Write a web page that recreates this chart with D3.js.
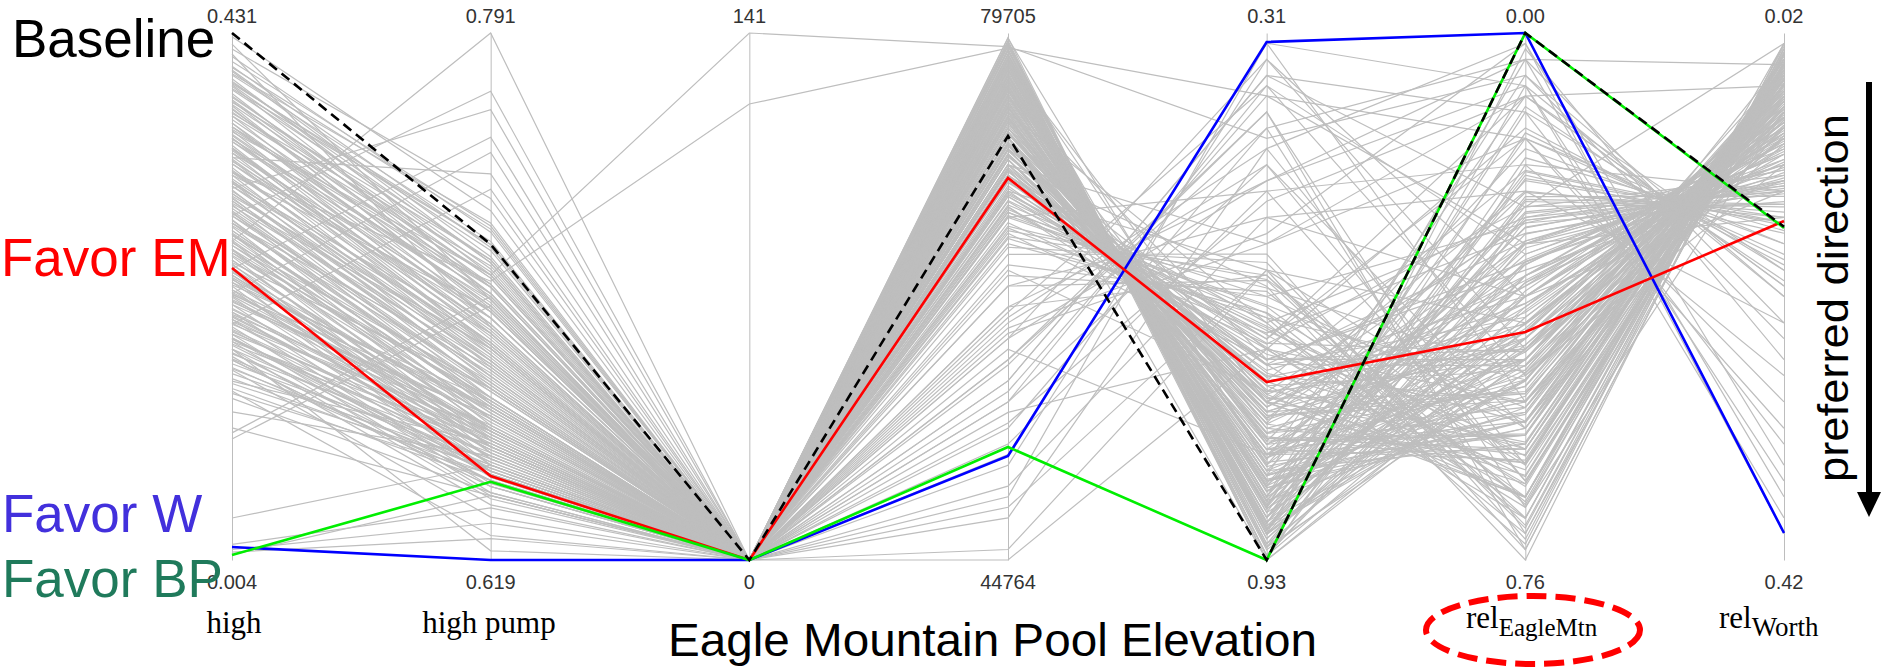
<!DOCTYPE html>
<html>
<head>
<meta charset="utf-8">
<script src="https://cdn.jsdelivr.net/npm/d3@7"></script>
<style>
  html, body { margin: 0; padding: 0; background: #fff; }
  svg { display: block; }
</style>
</head>
<body>
<svg id="chart" width="1882" height="668"></svg>
<script>
// Objective axes, left to right
const axisKeys = ["highDemand", "highPump", "emLow", "emVolume", "relBP", "relEagleMtn", "relWorth"];
const axisTop = [0.431, 0.791, 141, 79705, 0.31, 0.00, 0.02];
const axisBottom = [0.004, 0.619, 0, 44764, 0.93, 0.76, 0.42];
const topLabels = ["0.431", "0.791", "141", "79705", "0.31", "0.00", "0.02"];
const bottomLabels = ["0.004", "0.619", "0", "44764", "0.93", "0.76", "0.42"];

// Highlighted operating policies
const baselineRun = [0.431, 0.722, 0, 72877, 0.93, 0.00, 0.167];
const favorEM = [0.2406, 0.6464, 0, 70092, 0.7206, 0.4312, 0.1627];
const favorW = [0.0145, 0.619, 0, 51658, 0.3206, 0.00, 0.3995];
const favorBP = [0.008, 0.6445, 0, 52255, 0.93, 0.00, 0.168];

// Remaining Pareto-approximate solutions
const grayRuns = [
  [0.412,0.726,0,78600,0.899,0.418,0.068],
  [0.404,0.721,0,76211,0.837,0.570,0.044],
  [0.398,0.729,0,77600,0.744,0.228,0.160],
  [0.392,0.716,0,74464,0.930,0.456,0.060],
  [0.386,0.722,0,72018,0.682,0.684,0.036],
  [0.380,0.711,0,78300,0.868,0.114,0.200],
  [0.375,0.717,0,75512,0.775,0.608,0.052],
  [0.369,0.706,0,69921,0.651,0.722,0.032],
  [0.364,0.712,0,79006,0.911,0.304,0.108],
  [0.358,0.702,0,73416,0.806,0.494,0.076],
  [0.353,0.708,0,76910,0.856,0.038,0.240],
  [0.348,0.698,0,68175,0.713,0.532,0.060],
  [0.343,0.704,0,76211,0.880,0.380,0.092],
  [0.338,0.694,0,70970,0.608,0.760,0.028],
  [0.334,0.700,0,78600,0.930,0.190,0.140],
  [0.329,0.690,0,72717,0.794,0.441,0.080],
  [0.325,0.696,0,66427,0.694,0.342,0.132],
  [0.320,0.687,0,74800,0.825,0.593,0.040],
  [0.316,0.701,0,77958,0.899,0.076,0.220],
  [0.311,0.684,0,71320,0.756,0.517,0.056],
  [0.307,0.690,0,69223,0.589,0.745,0.036],
  [0.303,0.681,0,76560,0.868,0.266,0.124],
  [0.299,0.688,0,74110,0.806,0.395,0.096],
  [0.295,0.678,0,63982,0.732,0.471,0.072],
  [0.291,0.683,0,78300,0.918,0.471,0.048],
  [0.287,0.675,0,70270,0.670,0.152,0.188],
  [0.283,0.680,0,75860,0.837,0.547,0.052],
  [0.279,0.672,0,72370,0.781,0.418,0.088],
  [0.275,0.677,0,79006,0.930,0.023,0.268],
  [0.271,0.669,0,67476,0.632,0.669,0.040],
  [0.267,0.674,0,75160,0.843,0.319,0.116],
  [0.263,0.665,0,70620,0.744,0.593,0.048],
  [0.259,0.671,0,77260,0.887,0.243,0.152],
  [0.255,0.662,0,71670,0.719,0.456,0.084],
  [0.251,0.667,0,65030,0.570,0.730,0.032],
  [0.247,0.659,0,76560,0.856,0.441,0.064],
  [0.243,0.664,0,73770,0.800,0.334,0.104],
  [0.239,0.656,0,68870,0.688,0.562,0.068],
  [0.235,0.661,0,77958,0.905,0.395,0.076],
  [0.231,0.668,0,71320,0.769,0.167,0.180],
  [0.227,0.671,0,75512,0.831,0.502,0.056],
  [0.223,0.665,0,73070,0.738,0.638,0.044],
  [0.219,0.669,0,66780,0.663,0.289,0.140],
  [0.215,0.662,0,76910,0.874,0.479,0.052],
  [0.211,0.666,0,69570,0.707,0.380,0.100],
  [0.207,0.659,0,74800,0.812,0.091,0.212],
  [0.203,0.663,0,62930,0.601,0.699,0.036],
  [0.199,0.657,0,76211,0.849,0.426,0.072],
  [0.195,0.661,0,72018,0.763,0.304,0.120],
  [0.191,0.655,0,77600,0.893,0.350,0.096],
  [0.187,0.659,0,67830,0.657,0.654,0.044],
  [0.183,0.653,0,74464,0.818,0.213,0.164],
  [0.179,0.656,0,70270,0.725,0.486,0.064],
  [0.175,0.651,0,72717,0.787,0.578,0.048],
  [0.171,0.654,0,64330,0.620,0.274,0.148],
  [0.167,0.650,0,77260,0.862,0.456,0.060],
  [0.163,0.652,0,68530,0.682,0.137,0.196],
  [0.159,0.648,0,74110,0.806,0.532,0.056],
  [0.155,0.650,0,70970,0.750,0.365,0.108],
  [0.151,0.647,0,65729,0.639,0.623,0.040],
  [0.147,0.649,0,75860,0.843,0.258,0.136],
  [0.143,0.645,0,72370,0.775,0.471,0.068],
  [0.139,0.647,0,75160,0.831,0.061,0.252],
  [0.135,0.641,0,61540,0.595,0.714,0.032],
  [0.401,0.718,0,79350,0.818,0.350,0.092],
  [0.389,0.714,0,73070,0.725,0.669,0.028],
  [0.377,0.709,0,77260,0.874,0.205,0.172],
  [0.366,0.715,0,70620,0.763,0.433,0.068],
  [0.355,0.703,0,78600,0.924,0.372,0.084],
  [0.345,0.706,0,74110,0.787,0.600,0.040],
  [0.336,0.692,0,67130,0.676,0.251,0.128],
  [0.327,0.698,0,76560,0.849,0.486,0.060],
  [0.318,0.689,0,72370,0.744,0.669,0.036],
  [0.309,0.693,0,77958,0.887,0.144,0.192],
  [0.301,0.684,0,69223,0.701,0.410,0.088],
  [0.293,0.688,0,75512,0.831,0.524,0.052],
  [0.285,0.676,0,71320,0.750,0.327,0.112],
  [0.277,0.682,0,79006,0.911,0.441,0.064],
  [0.269,0.670,0,66080,0.645,0.737,0.028],
  [0.261,0.675,0,74800,0.825,0.281,0.132],
  [0.253,0.672,0,72717,0.781,0.540,0.048],
  [0.245,0.675,0,76910,0.868,0.106,0.208],
  [0.237,0.666,0,68175,0.694,0.471,0.076],
  [0.229,0.669,0,73770,0.800,0.616,0.044],
  [0.221,0.662,0,78300,0.899,0.334,0.100],
  [0.213,0.666,0,69921,0.719,0.198,0.164],
  [0.205,0.658,0,75860,0.837,0.509,0.056],
  [0.197,0.661,0,71670,0.756,0.403,0.096],
  [0.189,0.656,0,63630,0.614,0.676,0.036],
  [0.181,0.658,0,77600,0.880,0.236,0.144],
  [0.262,0.791,0,74464,0.651,0.266,0.140],
  [0.283,0.772,0,77958,0.794,0.547,0.060],
  [0.305,0.766,0,70970,0.558,0.091,0.200],
  [0.240,0.757,0,75512,0.694,0.456,0.084],
  [0.220,0.752,0,67476,0.496,0.646,0.052],
  [0.330,0.745,0,76910,0.856,0.152,0.180],
  [0.195,0.740,0,73416,0.744,0.357,0.104],
  [0.351,0.712,141,78800,0.434,0.061,0.220],
  [0.318,0.710,122,78700,0.384,0.304,0.160],
  [0.111,0.640,0,60487,0.465,0.570,0.060],
  [0.107,0.705,0,58040,0.403,0.684,0.080],
  [0.102,0.702,0,62930,0.527,0.228,0.240],
  [0.038,0.650,0,55246,0.372,0.494,0.120],
  [0.0166,0.636,0,51050,0.341,0.380,0.140],
  [0.0125,0.631,0,47560,0.446,0.623,0.068],
  [0.0083,0.640,0,56640,0.360,0.114,0.332],
  [0.0104,0.626,0,45460,0.589,0.418,0.100],
  [0.141,0.627,0,59440,0.484,0.038,0.372],
  [0.158,0.633,0,53499,0.422,0.722,0.044],
  [0.166,0.643,0,48960,0.322,0.076,0.388],
  [0.175,0.622,0,44764,0.682,0.532,0.080],
  [0.183,0.647,0,55940,0.384,0.152,0.300],
  [0.124,0.653,0,60140,0.546,0.015,0.348],
  [0.149,0.657,0,52450,0.496,0.190,0.280],
  [0.372,0.700,0,59440,0.341,0.456,0.100],
  [0.338,0.688,0,58040,0.422,0.038,0.044],
  [0.297,0.679,0,55246,0.465,0.646,0.060],
  [0.256,0.668,0,61190,0.372,0.319,0.120],
  [0.218,0.660,0,53850,0.508,0.091,0.060],
  [0.184,0.648,0,51752,0.322,0.532,0.092],
  [0.390,0.722,0,59790,0.558,0.152,0.320],
  [0.355,0.709,0,57690,0.403,0.745,0.036],
  [0.277,0.672,0,61540,0.484,0.076,0.360],
  [0.233,0.662,0,56640,0.360,0.251,0.028],
  [0.201,0.655,0,54550,0.682,0.669,0.052],
  [0.311,0.685,0,49660,0.527,0.380,0.084],
  [0.268,0.670,0,58740,0.806,0.304,0.132],
  [0.346,0.695,0,60840,0.446,0.015,0.400],
  [0.160,0.645,0,48258,0.589,0.570,0.076],
  [0.428,0.733,0,76560,0.843,0.471,0.056],
  [0.422,0.704,0,72717,0.732,0.274,0.124],
  [0.418,0.737,0,78600,0.893,0.502,0.040],
  [0.414,0.695,0,68870,0.670,0.091,0.212],
  [0.408,0.728,0,74800,0.794,0.365,0.088],
  [0.403,0.727,0,77100,0.880,0.300,0.120],
  [0.400,0.716,0,74000,0.806,0.600,0.050],
  [0.397,0.723,0,78900,0.915,0.410,0.085],
  [0.394,0.712,0,71500,0.700,0.700,0.035],
  [0.391,0.720,0,76000,0.860,0.250,0.150],
  [0.388,0.708,0,73000,0.760,0.520,0.070],
  [0.385,0.717,0,79200,0.925,0.350,0.110],
  [0.382,0.706,0,69000,0.660,0.600,0.055],
  [0.379,0.713,0,75000,0.830,0.460,0.078],
  [0.376,0.704,0,77800,0.895,0.180,0.170],
  [0.373,0.711,0,72200,0.745,0.650,0.042],
  [0.370,0.701,0,67800,0.620,0.560,0.090],
  [0.367,0.708,0,76800,0.870,0.430,0.066],
  [0.364,0.698,0,74300,0.790,0.580,0.058],
  [0.361,0.705,0,78500,0.915,0.270,0.138],
  [0.358,0.696,0,70500,0.700,0.480,0.098],
  [0.355,0.702,0,75600,0.845,0.560,0.046],
  [0.352,0.693,0,73200,0.770,0.390,0.112],
  [0.349,0.700,0,77500,0.890,0.500,0.072],
  [0.346,0.691,0,68300,0.640,0.700,0.030],
  [0.343,0.698,0,76100,0.865,0.330,0.126],
  [0.340,0.689,0,71900,0.730,0.590,0.054],
  [0.337,0.695,0,79000,0.925,0.440,0.082],
  [0.334,0.686,0,74700,0.810,0.470,0.086],
  [0.331,0.693,0,69800,0.680,0.640,0.048],
  [0.328,0.684,0,77000,0.880,0.210,0.160],
  [0.325,0.690,0,72700,0.760,0.530,0.066],
  [0.322,0.682,0,75300,0.835,0.560,0.052],
  [0.319,0.688,0,66900,0.610,0.490,0.104],
  [0.316,0.679,0,78200,0.905,0.380,0.094],
  [0.313,0.686,0,73600,0.785,0.620,0.038],
  [0.310,0.677,0,76400,0.855,0.290,0.134],
  [0.307,0.683,0,70800,0.715,0.420,0.096],
  [0.304,0.675,0,74900,0.820,0.550,0.062],
  [0.301,0.681,0,79400,0.930,0.470,0.074],
  [0.298,0.672,0,71300,0.735,0.670,0.034],
  [0.295,0.679,0,76700,0.870,0.360,0.118],
  [0.292,0.670,0,73800,0.800,0.500,0.070],
  [0.289,0.676,0,68600,0.655,0.610,0.058],
  [0.286,0.668,0,77700,0.895,0.240,0.150],
  [0.283,0.674,0,72500,0.755,0.450,0.090],
  [0.280,0.665,0,75100,0.830,0.560,0.044],
  [0.277,0.671,0,70100,0.695,0.330,0.122],
  [0.274,0.663,0,78000,0.900,0.430,0.080],
  [0.271,0.669,0,74100,0.805,0.580,0.056],
  [0.268,0.661,0,66200,0.595,0.680,0.042],
  [0.265,0.667,0,76300,0.860,0.310,0.130],
  [0.262,0.658,0,73400,0.780,0.510,0.068],
  [0.259,0.665,0,71000,0.720,0.630,0.050],
  [0.256,0.656,0,77300,0.885,0.400,0.088],
  [0.253,0.662,0,69400,0.675,0.460,0.100],
  [0.250,0.654,0,75700,0.845,0.570,0.058],
  [0.247,0.660,0,72000,0.745,0.270,0.142],
  [0.244,0.652,0,78800,0.915,0.490,0.070],
  [0.241,0.658,0,74500,0.815,0.580,0.040],
  [0.238,0.650,0,67600,0.630,0.540,0.080],
  [0.235,0.656,0,76600,0.865,0.200,0.166],
  [0.232,0.648,0,73100,0.765,0.440,0.092],
  [0.229,0.654,0,70700,0.710,0.600,0.054],
  [0.226,0.646,0,77900,0.895,0.330,0.112],
  [0.223,0.652,0,74200,0.800,0.560,0.060],
  [0.220,0.661,0,65500,0.580,0.710,0.036],
  [0.217,0.650,0,76000,0.850,0.420,0.084],
  [0.214,0.659,0,72300,0.750,0.350,0.116],
  [0.211,0.648,0,79100,0.925,0.260,0.140],
  [0.208,0.657,0,69100,0.665,0.650,0.046],
  [0.205,0.646,0,75400,0.825,0.480,0.076],
  [0.202,0.655,0,71600,0.735,0.390,0.106],
  [0.199,0.644,0,77400,0.885,0.500,0.050],
  [0.196,0.653,0,73900,0.790,0.230,0.156],
  [0.193,0.643,0,68000,0.645,0.500,0.086],
  [0.190,0.651,0,76500,0.860,0.540,0.064],
  [0.187,0.641,0,72800,0.770,0.620,0.044],
  [0.184,0.649,0,70300,0.700,0.300,0.128],
  [0.181,0.640,0,78100,0.900,0.450,0.078],
  [0.178,0.647,0,74600,0.810,0.380,0.102],
  [0.175,0.639,0,66600,0.600,0.620,0.052],
  [0.172,0.645,0,75900,0.840,0.280,0.136],
  [0.169,0.637,0,71700,0.740,0.520,0.072],
  [0.166,0.643,0,77600,0.890,0.360,0.098]
];

const sans = "'Liberation Sans', Arial, Helvetica, sans-serif";
const serif = "'Liberation Serif', 'Times New Roman', serif";

const svg = d3.select("#chart");
const yTop = 33, yBottom = 560;

const x = d3.scalePoint().domain(axisKeys).range([232, 1784]);
const y = axisKeys.map((k, i) =>
  d3.scaleLinear().domain([axisBottom[i], axisTop[i]]).range([yBottom, yTop]));

const line = d3.line()
  .x((d, i) => x(axisKeys[i]))
  .y((d, i) => y[i](d));

// Background solutions
svg.append("g")
  .selectAll("path")
  .data(grayRuns)
  .join("path")
  .attr("d", line)
  .attr("fill", "none")
  .attr("stroke", "#bebebe")
  .attr("stroke-width", 1.2);

// Vertical axes (domain line only)
axisKeys.forEach((k, i) => {
  const g = svg.append("g")
    .attr("transform", `translate(${x(k)},0)`)
    .call(d3.axisLeft(y[i]).tickValues([]).tickSizeOuter(0));
  g.select(".domain").attr("stroke", "#bdbdbd").attr("stroke-width", 1);
});

// Axis range labels
const labelG = svg.append("g").attr("font-family", sans).attr("font-size", 20).attr("fill", "#333");
labelG.selectAll("text.top")
  .data(topLabels)
  .join("text")
  .attr("class", "top")
  .attr("x", (d, i) => x(axisKeys[i]))
  .attr("y", 23)
  .attr("text-anchor", "middle")
  .text(d => d);
labelG.selectAll("text.bottom")
  .data(bottomLabels)
  .join("text")
  .attr("class", "bottom")
  .attr("x", (d, i) => x(axisKeys[i]))
  .attr("y", 589)
  .attr("text-anchor", "middle")
  .text(d => d);

// Highlighted policies
const highlight = [
  { run: favorW, color: "#0000ff", dash: null },
  { run: favorEM, color: "#ff0000", dash: null },
  { run: favorBP, color: "#00ee00", dash: null },
  { run: baselineRun, color: "#000000", dash: "10,6" }
];
svg.append("g")
  .selectAll("path")
  .data(highlight)
  .join("path")
  .attr("d", d => line(d.run))
  .attr("fill", "none")
  .attr("stroke", d => d.color)
  .attr("stroke-width", 2.6)
  .attr("stroke-dasharray", d => d.dash);

// Policy names on the left
const names = [
  { text: "Baseline", color: "#000000", x: 12, y: 57 },
  { text: "Favor EM", color: "#ff0000", x: 1, y: 276 },
  { text: "Favor W", color: "#4230dc", x: 2, y: 532 },
  { text: "Favor BP", color: "#1f7a5b", x: 2, y: 597 }
];
svg.append("g")
  .selectAll("text")
  .data(names)
  .join("text")
  .attr("x", d => d.x)
  .attr("y", d => d.y)
  .attr("font-family", sans)
  .attr("font-size", 53)
  .attr("fill", d => d.color)
  .text(d => d.text);

// Objective names below the axes
const nameG = svg.append("g").attr("font-family", serif).attr("fill", "#000");
nameG.append("text").attr("x", 234).attr("y", 633).attr("font-size", 31)
  .attr("text-anchor", "middle").text("high");
nameG.append("text").attr("x", 489).attr("y", 633).attr("font-size", 31)
  .attr("text-anchor", "middle").text("high pump");

const relEM = nameG.append("text").attr("x", 1466).attr("y", 628).attr("font-size", 31);
relEM.append("tspan").text("rel");
relEM.append("tspan").attr("font-size", 25).attr("dy", 8).text("EagleMtn");

const relW = nameG.append("text").attr("x", 1719).attr("y", 628).attr("font-size", 31);
relW.append("tspan").text("rel");
relW.append("tspan").attr("font-size", 27).attr("dy", 8).text("Worth");

// Callout around the Eagle Mountain reliability axis
svg.append("ellipse")
  .attr("cx", 1533).attr("cy", 630)
  .attr("rx", 107).attr("ry", 34)
  .attr("fill", "none")
  .attr("stroke", "#ff0000")
  .attr("stroke-width", 6)
  .attr("stroke-dasharray", "20,9");

// Caption
svg.append("text")
  .attr("x", 668).attr("y", 656)
  .attr("font-family", sans).attr("font-size", 47)
  .attr("textLength", 649).attr("lengthAdjust", "spacingAndGlyphs")
  .attr("fill", "#000")
  .text("Eagle Mountain Pool Elevation");

// Preferred direction indicator
svg.append("text")
  .attr("transform", "translate(1848,298) rotate(-90)")
  .attr("font-family", sans).attr("font-size", 43)
  .attr("text-anchor", "middle")
  .attr("textLength", 368).attr("lengthAdjust", "spacingAndGlyphs")
  .attr("fill", "#000")
  .text("preferred  direction");
svg.append("line")
  .attr("x1", 1869).attr("y1", 82).attr("x2", 1869).attr("y2", 494)
  .attr("stroke", "#000").attr("stroke-width", 6);
svg.append("polygon")
  .attr("points", "1857,492 1881,492 1869,517")
  .attr("fill", "#000");
</script>
</body>
</html>
